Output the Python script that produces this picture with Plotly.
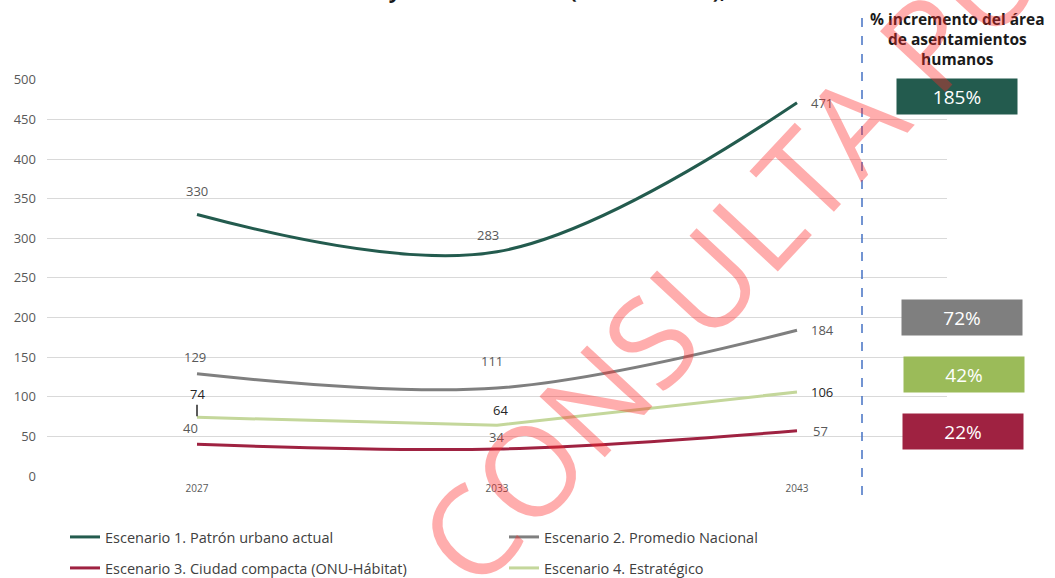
import plotly.graph_objects as go

years = ["2027", "2033", "2043"]
esc1 = [330, 283, 471]
esc2 = [129, 111, 184]
esc3 = [40, 34, 57]
esc4 = [74, 64, 106]
names = ["Escenario 1. Patrón urbano actual", "Escenario 2. Promedio Nacional",
         "Escenario 3. Ciudad compacta (ONU-Hábitat)", "Escenario 4. Estratégico"]
pct_labels = ["185%", "72%", "42%", "22%"]
y_ticks = [0, 50, 100, 150, 200, 250, 300, 350, 400, 450, 500]

title_text = "Escenario tendencial y escenario ideal (ONU-Hábitat), 2027-2043"
side_title = "% incremento del área<br>de asentamientos<br>humanos"
watermark = "CONSULTA PÚBLICA"

# styles
line_colors = ["#235B4E", "#7F7F7F", "#9F2241", "#C4D79B"]
box_colors = ["#235B4E", "#7F7F7F", "#9BBB59", "#9F2241"]
shapes_line = ["spline", "spline", "spline", "linear"]
legend_ids = ["legend", "legend", "legend2", "legend2"]
series = [esc1, esc2, esc3, esc4]

W, H = 1055, 578
L, R, T, B = 47, 108, 79, 102
pw, ph = W - L - R, H - T - B

def px_x(px):
    return (px - L) / pw

def px_y(py):
    return (H - B - py) / ph

fig = go.Figure()
for vals, nm, col, shp, lg in zip(series, names, line_colors, shapes_line, legend_ids):
    fig.add_trace(go.Scatter(x=years, y=vals, name=nm, mode="lines",
                             line=dict(color=col, width=3, shape=shp, smoothing=1.0),
                             legend=lg, hoverinfo="skip"))

# data label offsets (xshift, yshift) per series / point
offsets = [
    [(0, 24), (-9, 17), (25, 0)],
    [(-2, 17), (-5, 27), (25, 0)],
    [(-7, 16), (-1, 12), (23, 0)],
    [(0, 21), (3, 15), (25, 0)],
]
label_colors = ["#595959", "#595959", "#595959", "#262626"]
annotations = []
for si, vals in enumerate(series):
    for pi, v in enumerate(vals):
        xs, ys = offsets[si][pi]
        xpos = years.index(years[pi])
        if si == 3 and pi == 0:
            annotations.append(dict(x=xpos, y=v, text=str(v), showarrow=True,
                                    ax=0, ay=-23, arrowhead=0, arrowwidth=1.5,
                                    arrowcolor="#262626", standoff=1,
                                    font=dict(size=13, color=label_colors[si], family="Open Sans")))
            continue
        annotations.append(dict(x=xpos, y=v, text=str(v), showarrow=False,
                                xshift=xs, yshift=ys, xanchor="center", yanchor="middle",
                                font=dict(size=13, color=label_colors[si], family="Open Sans")))

# percentage boxes
box_centers = [(957, 96), (962, 317), (964, 374), (963, 431)]
for (cx, cy), txt, col in zip(box_centers, pct_labels, box_colors):
    annotations.append(dict(xref="paper", yref="paper", x=px_x(cx), y=px_y(cy),
                            xanchor="center", yanchor="middle",
                            text=txt, showarrow=False, width=116, height=31,
                            bgcolor=col, borderpad=2,
                            font=dict(size=19, color="white", family="Open Sans")))

# side title
annotations.append(dict(xref="paper", yref="paper", x=px_x(958), y=px_y(39),
                        xanchor="center", yanchor="middle",
                        text="<b>" + side_title + "</b>", showarrow=False,
                        font=dict(size=15.5, color="#1a1a1a", family="Open Sans"),
                        align="center"))
# cut-off main title
annotations.append(dict(xref="paper", yref="paper", x=px_x(500), y=px_y(-10),
                        xanchor="center", yanchor="middle",
                        text="<b>" + title_text + "</b>", showarrow=False,
                        font=dict(size=21, color="#1a1a1a", family="Open Sans")))
# watermark
annotations.append(dict(xref="paper", yref="paper", x=px_x(843), y=px_y(130),
                        xanchor="center", yanchor="middle",
                        text=watermark, showarrow=False, textangle=-47,
                        font=dict(size=125, color="rgba(255,40,40,0.38)", family="Open Sans")))

fig.update_layout(
    width=W, height=H,
    margin=dict(l=L, r=R, t=T, b=B, autoexpand=False),
    paper_bgcolor="white", plot_bgcolor="white",
    font=dict(family="Open Sans", color="#595959"),
    xaxis=dict(type="category", range=[-0.5, 2.5], showgrid=False, zeroline=False,
               showline=False, tickfont=dict(size=10, color="#595959"), ticks="",
               ticklabelstandoff=5),
    yaxis=dict(range=[0, 501], tickvals=y_ticks, showgrid=True, gridcolor="#D9D9D9",
               gridwidth=1, zeroline=False, showline=False,
               tickfont=dict(size=13, color="#595959"), ticklabelstandoff=10),
    legend=dict(orientation="h", x=px_x(65), y=px_y(537), xanchor="left", yanchor="middle",
                entrywidth=394, entrywidthmode="pixels",
                font=dict(size=14.5, color="#404040", family="Open Sans"),
                bgcolor="rgba(0,0,0,0)"),
    legend2=dict(orientation="h", x=px_x(65), y=px_y(568), xanchor="left", yanchor="middle",
                 entrywidth=394, entrywidthmode="pixels",
                 font=dict(size=14.5, color="#404040", family="Open Sans"),
                 bgcolor="rgba(0,0,0,0)"),
    annotations=annotations,
    shapes=[dict(type="line", xref="paper", yref="paper", x0=px_x(862), x1=px_x(862),
                 y0=px_y(495), y1=px_y(12), line=dict(color="#4472C4", width=1.5, dash="dash"))],
)

fig.write_html("out.html", config={"displayModeBar": False},
               post_script="document.body.style.margin='0';")
